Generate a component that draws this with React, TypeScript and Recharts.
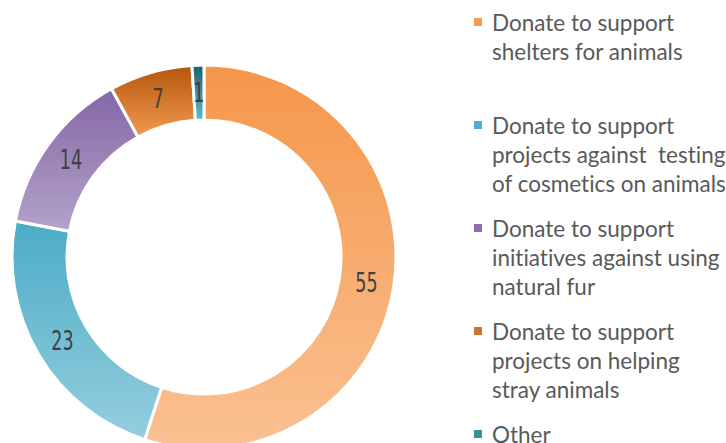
import { Cell, Legend, Pie, PieChart } from 'recharts'

const categories = [
  'Donate to support\nshelters for animals',
  'Donate to support\nprojects against  testing\nof cosmetics on animals',
  'Donate to support\ninitiatives against using\nnatural fur',
  'Donate to support\nprojects on helping\nstray animals',
  'Other',
]
const shares = [55, 23, 14, 7, 1]
const gradientTops = ['#F5964A', '#4BACC6', '#8466A6', '#B4560E', '#215D6C']
const gradientBottoms = ['#FAC192', '#95CEDE', '#B4A3C9', '#F39A4E', '#63BBD2']
const legendSwatches = ['#F79A52', '#4FAECA', '#8C72AC', '#D0702A', '#3A8CA0']

const data = categories.map((name, i) => ({ name, value: shares[i] }))

const CX = 204
const CY = 257
const INNER = 137
const OUTER = 192
const RAD = Math.PI / 180

function SliceLabel(props: any): React.ReactElement {
  const { midAngle, value } = props
  const r = (INNER + OUTER) / 2
  const x = CX + r * Math.cos(-midAngle * RAD)
  const y = CY + r * Math.sin(-midAngle * RAD)
  return (
    <text
      x={x}
      y={y}
      textAnchor="middle"
      dominantBaseline="central"
      fill="#404040"
      fontFamily="'Liberation Sans Narrow', 'DejaVu Sans Condensed', sans-serif"
      fontSize={26}
      transform={`translate(${x} ${y}) scale(0.75 1) translate(${-x} ${-y})`}
    >
      {value}
    </text>
  )
}

function DonationLegend(): React.ReactElement {
  return (
    <div
      style={{
        fontFamily: 'Lato, "Open Sans", sans-serif',
        fontSize: 22.5,
        color: '#595959',
        fontVariantLigatures: 'none',
      }}
    >
      {data.map((d, i) => (
        <div key={d.name} style={{ display: 'flex', height: 103, alignItems: 'flex-start' }}>
          <span
            style={{
              width: 8,
              height: 8,
              marginTop: 10,
              marginRight: 10,
              flex: 'none',
              background: legendSwatches[i],
            }}
          />
          <span style={{ whiteSpace: 'pre', lineHeight: '29px' }}>{d.name}</span>
        </div>
      ))}
    </div>
  )
}

export default function App(): React.ReactElement {
  return (
    <div style={{ position: 'absolute', top: 0, left: 0, width: 726, height: 443, overflow: 'hidden', background: '#fff' }}>
      <PieChart width={726} height={443} margin={{ top: 0, right: 0, bottom: 0, left: 0 }}>
        <defs>
          {shares.map((_, i) => (
            <linearGradient key={i} id={`slice${i}`} x1="0" y1="0" x2="0" y2="1">
              <stop offset="0%" stopColor={gradientTops[i]} />
              <stop offset="100%" stopColor={gradientBottoms[i]} />
            </linearGradient>
          ))}
        </defs>
        <Pie
          data={data}
          dataKey="value"
          nameKey="name"
          cx={CX}
          cy={CY}
          innerRadius={INNER}
          outerRadius={OUTER}
          startAngle={90}
          endAngle={-270}
          stroke="#fff"
          strokeWidth={3}
          label={SliceLabel}
          labelLine={false}
          isAnimationActive={false}
        >
          {data.map((d, i) => (
            <Cell key={d.name} fill={`url(#slice${i})`} />
          ))}
        </Pie>
        <Legend
          layout="vertical"
          align="right"
          verticalAlign="top"
          content={() => <DonationLegend />}
          wrapperStyle={{ top: 8, left: 474, width: 252 }}
        />
      </PieChart>
    </div>
  )
}
